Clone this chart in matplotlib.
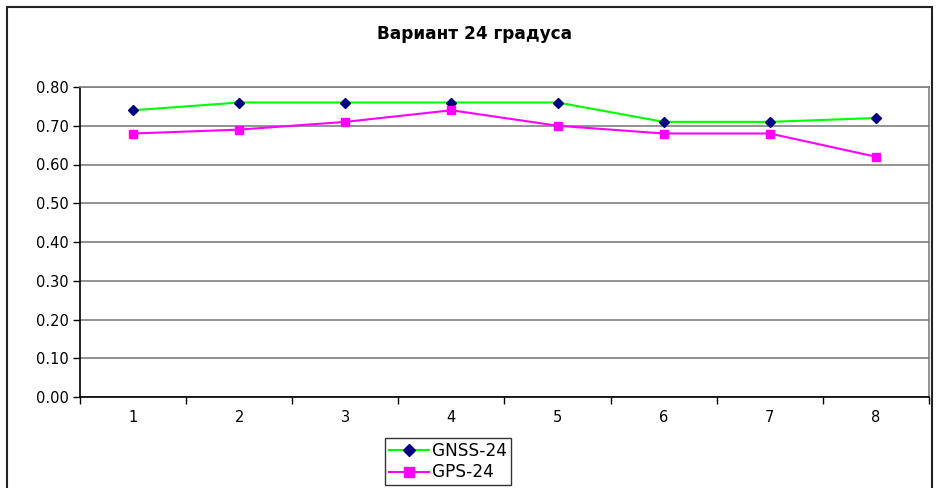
import numpy as np
import matplotlib.pyplot as plt
from matplotlib.patches import Rectangle
from matplotlib.ticker import FixedLocator, FormatStrFormatter

plt.rcParams['font.family'] = ['DejaVu Sans']

points = [1, 2, 3, 4, 5, 6, 7, 8]
gnss_24 = [0.74, 0.76, 0.76, 0.76, 0.76, 0.71, 0.71, 0.72]
gps_24 = [0.68, 0.69, 0.71, 0.74, 0.70, 0.68, 0.68, 0.62]
y_ticks = [0.0, 0.1, 0.2, 0.3, 0.4, 0.5, 0.6, 0.7, 0.8]

fig = plt.figure(figsize=(9.37, 4.88), dpi=100)
ax = fig.add_axes([80 / 937, 91 / 488, 849 / 937, 310 / 488])

# внешняя рамка диаграммы (низ уходит за край)
fig.patches.append(Rectangle((7 / 937, -0.2), 925 / 937, 1.2 - 7 / 488,
                             transform=fig.transFigure, fill=False,
                             edgecolor='#222222', lw=1.5, clip_on=False))

ax.plot(points, gnss_24, color='#00ff00', lw=1.5, marker='D', ms=5.5,
        mfc='#000080', mec='#000080', label='GNSS-24', zorder=3)
ax.plot(points, gps_24, color='#ff00ff', lw=1.5, marker='s', ms=6,
        mfc='#ff00ff', mec='#ff00ff', label='GPS-24', zorder=3)

ax.set_xlim(0.5, 8.5)
ax.set_ylim(0, 0.8)
ax.set_yticks(y_ticks)
ax.yaxis.set_major_formatter(FormatStrFormatter('%.2f'))
ax.grid(axis='y', color='#808080', lw=1.2, zorder=0)

ax.set_xticks(points)
ax.set_xticklabels([str(p) for p in points])
ax.xaxis.set_minor_locator(FixedLocator(np.arange(0.5, 9.0, 1.0)))
ax.tick_params(axis='x', which='major', length=0, pad=9, labelsize=10.5)
ax.tick_params(axis='x', which='minor', length=5, width=1, color='black')
ax.tick_params(axis='y', length=5, width=1, labelsize=10.5, pad=3)

ax.spines['left'].set_color('black')
ax.spines['bottom'].set_color('black')
ax.spines['top'].set_color('#808080')
ax.spines['right'].set_color('#808080')
for s in ax.spines.values():
    s.set_linewidth(1.2)

fig.text(475 / 937, 1 - 34 / 488, 'Вариант 24 градуса', ha='center',
         va='center', fontsize=12.2, fontweight='bold')

leg = fig.legend(loc='upper left', bbox_to_anchor=(385 / 937, 1 - 438 / 488),
                 frameon=True, fancybox=False, fontsize=12.2, handlelength=2.35,
                 handletextpad=0.2, borderpad=0.22, labelspacing=0.22,
                 borderaxespad=0, markerscale=1.15)
leg.get_frame().set_edgecolor('black')
leg.get_frame().set_linewidth(1)

fig.savefig('out.png', dpi=100)
